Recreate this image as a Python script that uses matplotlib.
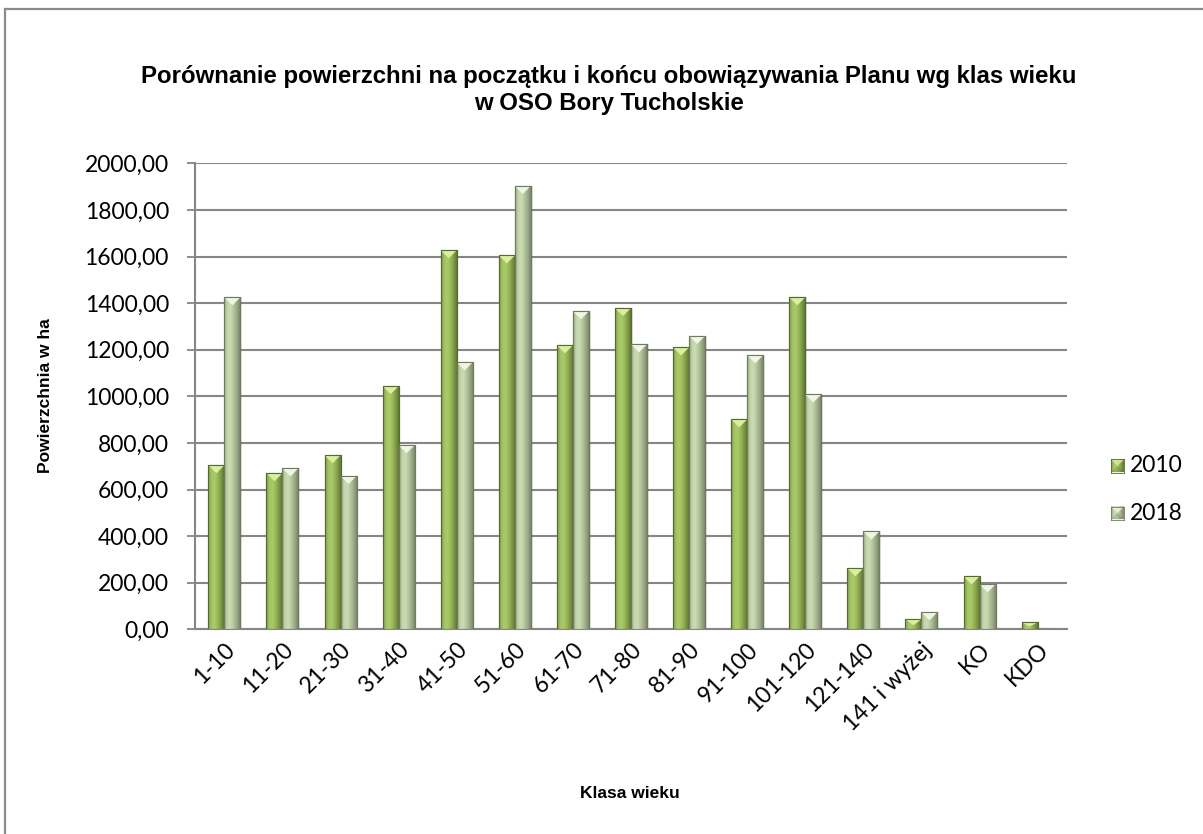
import numpy as np
import matplotlib
matplotlib.use("Agg")
import matplotlib.pyplot as plt
from matplotlib.colors import LinearSegmentedColormap
from matplotlib.patches import Polygon
from matplotlib.lines import Line2D

# Age classes and area (ha) at the start and end of the plan period
categories = ["1-10", "11-20", "21-30", "31-40", "41-50", "51-60", "61-70",
              "71-80", "81-90", "91-100", "101-120", "121-140", "141 i wyżej",
              "KO", "KDO"]
area_2010 = [704, 670, 747, 1044, 1627, 1605, 1219, 1379, 1210, 901, 1425,
             262, 43, 227, 30]
area_2018 = [1425, 691, 658, 790, 1146, 1903, 1365, 1223, 1259, 1176, 1008,
             420, 73, 193, 0]
series_names = ["2010", "2018"]
y_ticks = [0, 200, 400, 600, 800, 1000, 1200, 1400, 1600, 1800, 2000]

W, H, DPI = 1203, 834, 100
fig = plt.figure(figsize=(W / DPI, H / DPI), dpi=DPI)
ax = fig.add_axes([195.3 / W, 1 - 629.3 / H, (1066.7 - 195.3) / W, (629.3 - 163.4) / H])

tick_font = "Lato"
grid_col = "#868686"

# bevelled green shading for each series: dark edge -> light -> dark edge
grad_2010 = LinearSegmentedColormap.from_list(
    "g2010", ["#7a9744", "#a3c463", "#abca6a", "#9ab959", "#809b49", "#627936"])
grad_2018 = LinearSegmentedColormap.from_list(
    "g2018", ["#95a67e", "#c3d5aa", "#cbdbb4", "#b5c69d", "#9cab88", "#7c896a"])
cap_2010 = "#d9ef9e"
cap_2018 = "#eff6e4"
edge_2010 = "#56692f"
edge_2018 = "#6f7a5f"

x = np.arange(len(categories))
bw = 0.275
ramp = np.linspace(0, 1, 64).reshape(1, -1)
px_per_unit = (629.3 - 163.4) / 2000.0
cap_depth = 8.0 / px_per_unit

series = [(area_2010, -bw / 2, grad_2010, cap_2010, edge_2010),
          (area_2018, bw / 2, grad_2018, cap_2018, edge_2018)]

for vals, off, cmap, capc, edgec in series:
    bars = ax.bar(x + off, vals, width=bw, color="none", edgecolor=edgec,
                  linewidth=0.8, zorder=3)
    for b in bars:
        h = b.get_height()
        if h <= 0:
            continue
        x0, w = b.get_x(), b.get_width()
        # soft drop shadow
        ax.add_patch(plt.Rectangle((x0 + 0.03, 0), w, h, facecolor="#000000",
                                   alpha=0.10, edgecolor="none", zorder=2))
        im = ax.imshow(ramp, cmap=cmap, aspect="auto", extent=(x0, x0 + w, 0, h),
                       zorder=3, interpolation="bilinear")
        im.set_clip_path(b)
        d = min(cap_depth, h * 0.6)
        ax.add_patch(Polygon([(x0, h), (x0 + w, h), (x0 + w / 2, h - d)],
                             closed=True, facecolor=capc, edgecolor="none",
                             zorder=4))
        ax.add_patch(plt.Rectangle((x0, 0), w, h, facecolor="none",
                                   edgecolor=edgec, linewidth=0.8, zorder=5))

ax.set_xlim(-0.5, len(categories) - 0.5)
ax.set_ylim(0, 2000)
ax.set_yticks(y_ticks)
ax.set_yticklabels([f"{v:.2f}".replace(".", ",") for v in y_ticks],
                   fontsize=16.5, family=tick_font)
ax.set_xticks(x)
ax.set_xticklabels(categories, rotation=45, ha="right", rotation_mode="anchor",
                   fontsize=16.5, family=tick_font)
ax.tick_params(axis="x", length=0, pad=7)
ax.tick_params(axis="y", length=6, width=1.3, color=grid_col, pad=13)
ax.yaxis.grid(True, color=grid_col, linewidth=1.5, zorder=0)
ax.set_axisbelow(True)
for s in ["top", "right"]:
    ax.spines[s].set_visible(False)
for s in ["left", "bottom"]:
    ax.spines[s].set_color(grid_col)
    ax.spines[s].set_linewidth(1.5)

ax.set_ylabel("Powierzchnia w ha", fontsize=12.5, fontweight="bold",
              family="Liberation Sans", labelpad=0)
ax.yaxis.set_label_coords(53 / W, 1 - 396 / H, transform=fig.transFigure)

fig.text(630 / W, 1 - 794 / H, "Klasa wieku", fontsize=12.5, fontweight="bold",
         family="Liberation Sans", ha="center", va="center")

fig.text(609 / W, 1 - 90 / H,
         "Porównanie powierzchni na początku i końcu obowiązywania Planu wg klas wieku\n"
         "w OSO Bory Tucholskie",
         fontsize=17.3, fontweight="bold", family="Liberation Sans",
         ha="center", va="center", linespacing=1.2)

# legend entries
for i, (name, cmap, capc, edgec) in enumerate(
        [(series_names[0], grad_2010, cap_2010, edge_2010),
         (series_names[1], grad_2018, cap_2018, edge_2018)]):
    yc = 1 - (466 + 47 * i) / H
    lax = fig.add_axes([1111 / W, yc - 6.5 / H, 13 / W, 13 / H])
    lax.imshow(ramp, cmap=cmap, aspect="auto", extent=(0, 1, 0, 1))
    lax.add_patch(Polygon([(0, 1), (1, 1), (0.5, 0.5)], facecolor=capc,
                          edgecolor="none", alpha=0.8))
    lax.add_patch(Polygon([(0, 0), (1, 0), (0.5, 0.5)], facecolor="#000000",
                          edgecolor="none", alpha=0.12))
    lax.set_xlim(0, 1)
    lax.set_ylim(0, 1)
    lax.set_xticks([])
    lax.set_yticks([])
    for s in lax.spines.values():
        s.set_color(edgec)
        s.set_linewidth(0.6)
    fig.text(1130 / W, yc, name, fontsize=16.5, family=tick_font,
             ha="left", va="center")

# chart frame
fig.add_artist(Line2D([5 / W, 5 / W], [0, 1 - 8.5 / H], color="#8c8c8c",
                      linewidth=1.6, transform=fig.transFigure))
fig.add_artist(Line2D([5 / W, 1], [1 - 8.5 / H, 1 - 8.5 / H], color="#8c8c8c",
                      linewidth=1.6, transform=fig.transFigure))

fig.savefig("out.png", dpi=DPI)
